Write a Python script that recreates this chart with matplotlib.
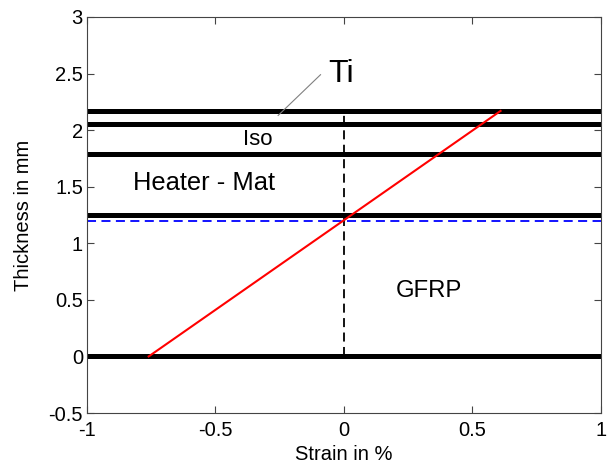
import matplotlib
matplotlib.use("Agg")
import matplotlib.pyplot as plt

# Data
layer_levels = [0.0, 1.25, 1.79, 2.05, 2.17]
neutral_axis = 1.20
strain_x = [-0.76, 0.61]
strain_y = [0.0, 2.17]
vert_x = [0.0, 0.0]
vert_y = [0.0, 2.13]
labels = ["Ti", "Iso", "Heater - Mat", "GFRP"]
label_x = [-0.01, -0.335, -0.545, 0.33]
label_y = [2.50, 1.92, 1.53, 0.58]
label_sizes = [23, 16, 18.4, 17.2]
ti_pointer_x = [-0.256, -0.091]
ti_pointer_y = [2.13, 2.49]

plt.rcParams['font.family'] = ['Liberation Sans', 'DejaVu Sans']

fig = plt.figure(figsize=(6.13, 4.67), dpi=100)
ax = fig.add_axes([0.142, 0.1156, 0.838, 0.848])

for lv in layer_levels:
    ax.plot([-1, 1], [lv, lv], color='black', lw=3.6, solid_capstyle='butt')
ax.plot([-1, 1], [neutral_axis, neutral_axis], color='blue', lw=1.3, ls=(0, (5, 3)))
ax.plot(vert_x, vert_y, color='black', lw=1.3, ls=(0, (5, 3)))
ax.plot(strain_x, strain_y, color='red', lw=1.5)
ax.plot(ti_pointer_x, ti_pointer_y, color='gray', lw=0.8)

for t, x, y, s in zip(labels, label_x, label_y, label_sizes):
    ax.text(x, y, t, fontsize=s, ha='center', va='center')

ax.set_xlim(-1, 1)
ax.set_ylim(-0.5, 3)
ax.set_xticks([-1, -0.5, 0, 0.5, 1])
ax.set_xticklabels(['-1', '-0.5', '0', '0.5', '1'])
ax.set_yticks([-0.5, 0, 0.5, 1, 1.5, 2, 2.5, 3])
ax.set_yticklabels(['-0.5', '0', '0.5', '1', '1.5', '2', '2.5', '3'])
ax.tick_params(direction='in', top=True, right=True, labelsize=14.5, length=5, color='#444444')
ax.tick_params(axis='x', pad=6)
ax.tick_params(axis='y', pad=3)
for sp in ax.spines.values():
    sp.set_color('#444444')
    sp.set_linewidth(0.8)
ax.set_xlabel('Strain in %', fontsize=14.5, labelpad=3)
ax.set_ylabel('Thickness in mm', fontsize=14.5, labelpad=11)

fig.savefig('out.png', dpi=100)
